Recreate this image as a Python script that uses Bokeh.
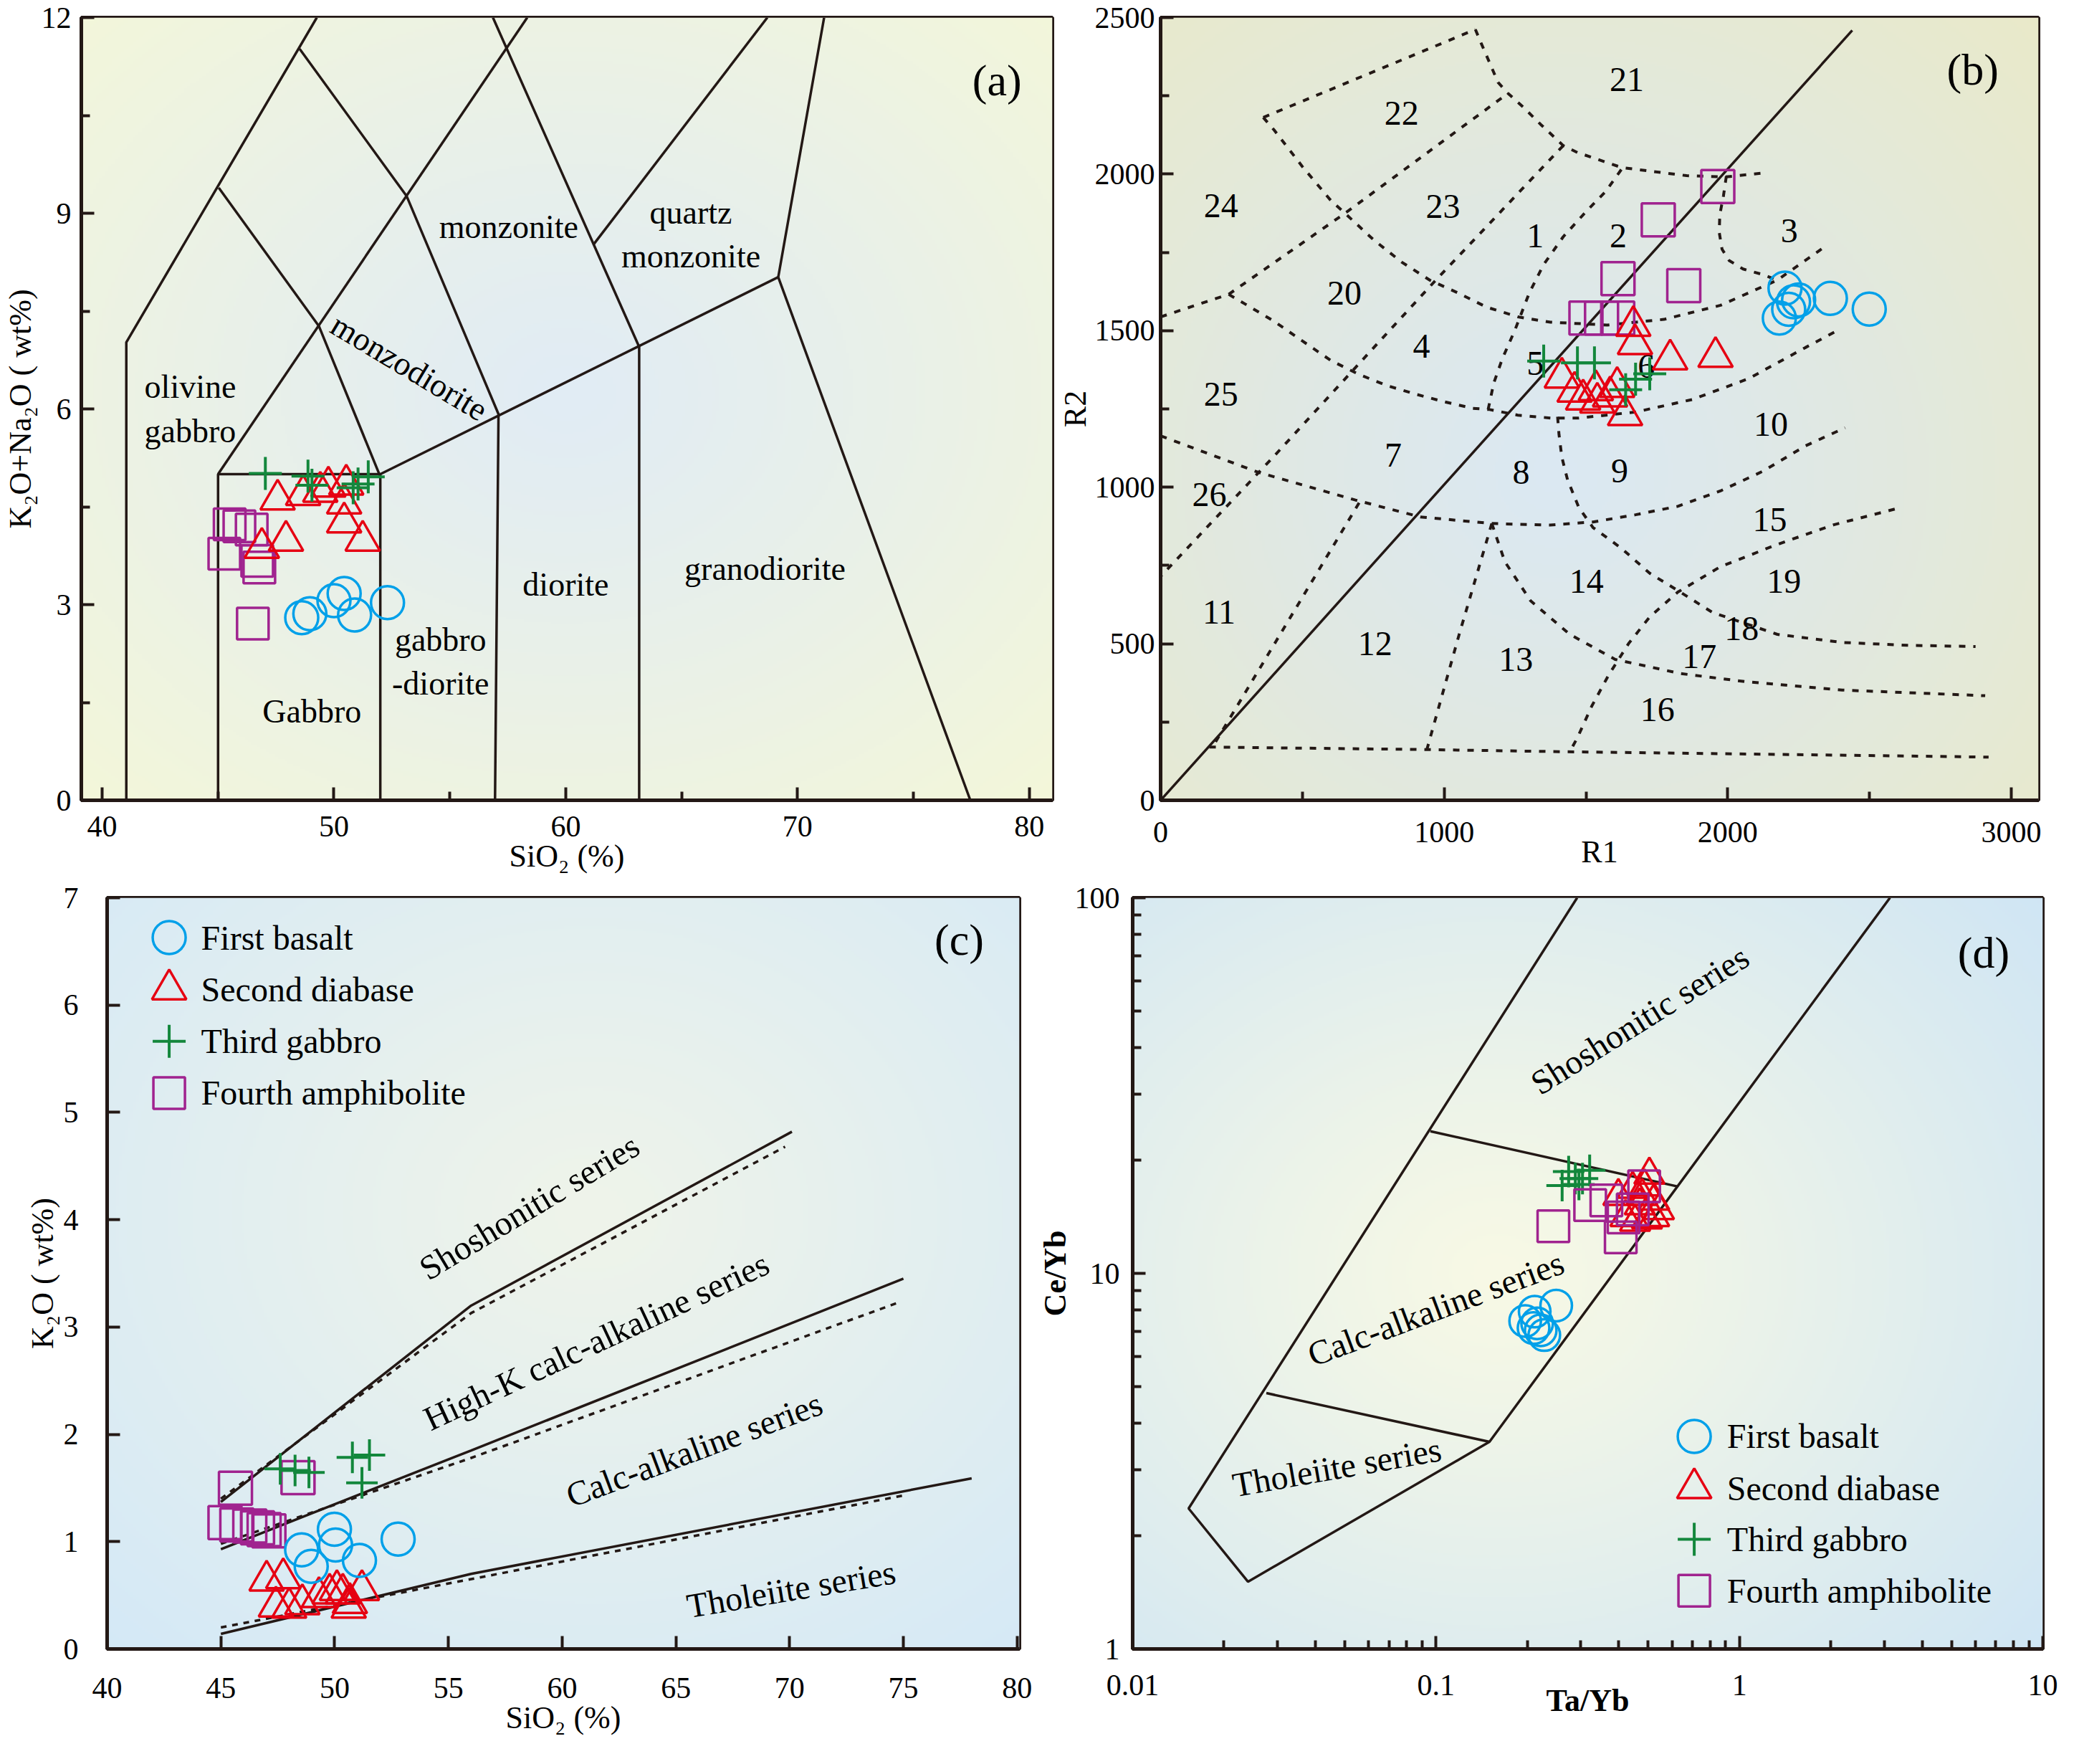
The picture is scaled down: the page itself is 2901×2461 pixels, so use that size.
import numpy as np
from bokeh.plotting import figure
from bokeh.layouts import column, row
from bokeh.models import FixedTicker, CustomJSTickFormatter, Range1d
from bokeh.embed import file_html
from bokeh.resources import INLINE
from bokeh.core.properties import value

FONT = "Liberation Serif"
INK = "#231815"
C_BLUE = "#00a0e9"
C_RED = "#e60012"
C_GREEN = "#13873c"
C_PURPLE = "#a0238f"

SERIES = ["First basalt", "Second diabase", "Third gabbro", "Fourth amphibolite"]

# ---------------- Panel (a): TAS plutonic ----------------
a_basalt_x = [48.61, 48.96, 50.0, 50.44, 50.89, 52.31]
a_basalt_y = [2.80, 2.86, 3.06, 3.17, 2.84, 3.03]
a_diabase_x = [47.57, 48.67, 49.41, 49.76, 50.53, 50.44, 50.44, 51.24, 47.93, 46.89]
a_diabase_y = [4.61, 4.68, 4.73, 4.81, 4.84, 4.55, 4.26, 3.98, 3.98, 3.87]
a_gabbro_x = [47.04, 48.88, 49.05, 50.83, 51.04, 51.48]
a_gabbro_y = [5.01, 4.97, 4.83, 4.79, 4.85, 4.96]
a_amph_x = [45.5, 45.92, 46.45, 45.27, 46.69, 46.78, 46.5]
a_amph_y = [4.23, 4.2, 4.15, 3.78, 3.67, 3.57, 2.71]

a_bound_xs = [[41.04, 41.04, 49.26], [45.03, 49.35, 51.98], [45, 45, 52, 52], [45, 58.34],
              [48.52, 53.14, 57.1, 56.95], [52, 69.17], [56.86, 63.17, 63.17], [61.2, 68.7],
              [71.15, 69.17, 77.46]]
a_bound_ys = [[0, 7.02, 12], [9.39, 7.27, 4.98], [0, 5, 5, 0], [5, 12],
              [11.52, 9.26, 5.92, 0], [5, 8.02], [12, 6.95, 0], [8.52, 12],
              [12, 8.02, 0]]
a_lab_text = ["olivine\ngabbro", "monzonite", "quartz\nmonzonite", "diorite", "granodiorite",
              "gabbro\n-diorite", "Gabbro"]
a_lab_x = [43.8, 57.54, 65.4, 60.0, 68.6, 54.6, 49.05]
a_lab_y = [6.0, 8.79, 8.68, 3.31, 3.55, 2.13, 1.36]

# ---------------- Panel (b): R1-R2 ----------------
b_basalt_x = [2202, 2232, 2250, 2215, 2182, 2362, 2499]
b_basalt_y = [1636, 1592, 1598, 1568, 1540, 1603, 1569]
b_diabase_x = [1667, 1673, 1797, 1957, 1415, 1460, 1490, 1535, 1540, 1610, 1638, 1585]
b_diabase_y = [1515, 1457, 1408, 1416, 1350, 1305, 1280, 1310, 1270, 1320, 1230, 1290]
b_gabbro_x = [1351, 1470, 1530, 1640, 1675, 1725]
b_gabbro_y = [1403, 1397, 1397, 1311, 1345, 1362]
b_amph_x = [1965, 1755, 1613, 1845, 1500, 1555, 1612]
b_amph_y = [1960, 1854, 1666, 1644, 1540, 1540, 1540]

b_diag_x = [0, 2439]
b_diag_y = [0, 2459]
b_curves = [
    [(362, 2181), (1110, 2462)],
    [(1110, 2462), (1130, 2419), (1160, 2356), (1190, 2293), (1225, 2258), (1280, 2213), (1340, 2159),
     (1420, 2091), (1470, 2069), (1626, 2021), (1855, 1995), (1992, 1991), (2130, 2004)],
    [(362, 2181), (400, 2141), (500, 2024), (600, 1916), (655, 1871), (750, 1791), (850, 1719), (950, 1661),
     (1050, 1620), (1150, 1575), (1260, 1544), (1375, 1527), (1575, 1518), (1775, 1536), (1975, 1581),
     (2174, 1661), (2344, 1769)],
    [(1995, 1993), (1985, 1931), (1972, 1870), (1970, 1814), (1980, 1760), (2005, 1724), (2054, 1697),
     (2124, 1679), (2164, 1665)],
    [(240, 1616), (655, 1878), (1225, 2258)],
    [(1420, 2091), (970, 1661), (400, 1099), (0, 715)],
    [(0, 1544), (240, 1616), (300, 1584), (400, 1530), (500, 1467), (600, 1405), (700, 1360), (800, 1324),
     (900, 1297), (1000, 1273), (1100, 1252), (1160, 1248), (1260, 1230), (1375, 1221), (1475, 1221),
     (1675, 1240), (1875, 1280), (2074, 1347), (2274, 1446), (2394, 1504)],
    [(1155, 1248), (1175, 1333), (1205, 1410), (1250, 1503), (1300, 1620), (1350, 1710), (1420, 1800),
     (1500, 1880), (1570, 1945), (1625, 2015)],
    [(0, 1164), (343, 1048), (687, 959), (916, 905), (1168, 884), (1374, 879), (1525, 889), (1675, 912),
     (1824, 939), (1974, 988), (2124, 1051), (2274, 1132), (2414, 1190)],
    [(1400, 1225), (1405, 1168), (1415, 1096), (1435, 1024), (1475, 935), (1525, 871), (1625, 805),
     (1725, 725), (1824, 670), (1946, 600), (2175, 530), (2404, 504), (2633, 495), (2874, 491)],
    [(2589, 930), (2374, 880), (2174, 817), (1974, 746), (1824, 665), (1725, 586), (1650, 500),
     (1580, 400), (1520, 300), (1470, 200), (1443, 155)],
    [(1168, 884), (1214, 762), (1305, 637), (1443, 530), (1603, 450), (1832, 405), (2061, 379),
     (2404, 352), (2908, 334)],
    [(1168, 884), (1053, 530), (939, 162)],
    [(700, 950), (183, 170)],
    [(172, 170), (939, 162), (1431, 155), (2920, 138)],
]
b_lab_text = ["21", "22", "24", "23", "1", "2", "3", "20", "4", "25", "5", "6", "7", "26", "8", "9",
              "10", "15", "11", "14", "19", "18", "12", "13", "17", "16"]
b_lab_x = [1644, 850, 213, 996, 1321, 1614, 2217, 648, 920, 213, 1321, 1713, 820, 172, 1271, 1619,
           2152, 2148, 206, 1502, 2198, 2049, 756, 1253, 1900, 1752]
b_lab_y = [2302, 2195, 1900, 1896, 1802, 1802, 1820, 1620, 1450, 1298, 1396, 1387, 1102, 977, 1048, 1052,
           1200, 896, 602, 700, 700, 548, 500, 450, 459, 289]

# ---------------- Panel (c): K2O vs SiO2 ----------------
c_basalt_x = [48.55, 48.97, 49.99, 50.04, 51.09, 52.79]
c_basalt_y = [0.924, 0.77, 1.116, 0.968, 0.825, 1.023]
c_diabase_x = [47.01, 47.74, 47.42, 48.0, 48.58, 49.31, 49.78, 50.10, 50.36, 50.67, 51.2, 50.62]
c_diabase_y = [0.637, 0.659, 0.395, 0.384, 0.417, 0.483, 0.516, 0.549, 0.516, 0.428, 0.549, 0.384]
c_gabbro_x = [47.61, 48.26, 48.87, 50.78, 51.53, 51.2]
c_gabbro_y = [1.679, 1.663, 1.645, 1.785, 1.807, 1.548]
c_amph_x = [45.18, 45.70, 46.27, 46.61, 46.90, 47.11, 45.64, 48.39]
c_amph_y = [1.178, 1.156, 1.145, 1.129, 1.112, 1.101, 1.498, 1.597]

c_solid_xs = [[45, 56, 70.1], [45, 56, 75], [45, 56, 78]]
c_solid_ys = [[1.37, 3.2, 4.82], [0.93, 1.85, 3.45], [0.14, 0.70, 1.59]]
c_dot_xs = [[45, 56, 69.8], [45, 56, 74.8], [45, 75]]
c_dot_ys = [[1.40, 3.13, 4.68], [0.98, 1.78, 3.23], [0.20, 1.43]]
c_lab_text = ["Shoshonitic series", "High-K calc-alkaline series", "Calc-alkaline series", "Tholeiite series"]
c_lab_x = [58.55, 61.5, 65.8, 70.07]
c_lab_y = [4.12, 2.87, 1.86, 0.56]
c_lab_angle = [31, 25, 20.5, 9.5]

# ---------------- Panel (d): Ce/Yb vs Ta/Yb ----------------
d_basalt_x = [0.1967, 0.2114, 0.2489, 0.2154, 0.2213, 0.2274, 0.2096]
d_basalt_y = [7.47, 7.91, 8.21, 7.36, 7.05, 6.85, 7.15]
d_diabase_x = [0.399, 0.4446, 0.5048, 0.4868, 0.5236, 0.5429, 0.4694, 0.4211, 0.4529, 0.4958, 0.5236, 0.4781]
d_diabase_y = [16.05, 16.76, 18.28, 17.0, 15.6, 14.72, 15.15, 14.1, 13.7, 13.9, 14.1, 16.05]
d_gabbro_x = [0.2604, 0.2736, 0.2878, 0.3039, 0.3209, 0.2958]
d_gabbro_y = [17.13, 18.67, 17.88, 17.88, 18.81, 17.25]
d_amph_x = [0.2436, 0.3221, 0.3642, 0.4852, 0.4150, 0.4062, 0.445]
d_amph_y = [13.35, 15.20, 15.64, 17.06, 14.09, 12.47, 14.8]

d_bound_xs = [[0.2918, 0.01529, 0.02399, 0.150, 3.135], [0.02758, 0.150], [0.0958, 0.627]]
d_bound_ys = [[100, 2.366, 1.51, 3.56, 100], [4.80, 3.56], [23.9, 17.03]]
d_lab_text = ["Shoshonitic series", "Calc-alkaline series", "Tholeiite series"]
d_lab_x = [0.469, 0.0997, 0.0471]
d_lab_y = [47.3, 8.06, 3.05]
d_lab_angle = [32, 20.5, 10]


def hex2rgb(h):
    h = h.lstrip("#")
    return np.array([int(h[i:i + 2], 16) for i in (0, 2, 4)], dtype=float)


def add_bg(p, xr, yr, cx, cy, rx, ry, c_in, c_out, n=320):
    u = np.linspace(0, 1, n)
    U, V = np.meshgrid(u, u)
    d = np.sqrt(((U - cx) / rx) ** 2 + ((V - cy) / ry) ** 2)
    t = np.clip(d, 0, 1) ** 1.1
    ci, co = hex2rgb(c_in), hex2rgb(c_out)
    img = np.empty((n, n), dtype=np.uint32)
    view = img.view(dtype=np.uint8).reshape((n, n, 4))
    for k in range(3):
        view[..., k] = (ci[k] * (1 - t) + co[k] * t).astype(np.uint8)
    view[..., 3] = 255
    p.image_rgba(image=[img], x=xr[0], y=yr[0], dw=xr[1] - xr[0], dh=yr[1] - yr[0], level="image")


def make_fig(xr, yr, fw, fh, bl, br, bt, bb, xt="linear", yt="linear",
             xs=(16, 0), ys=(14, 0)):
    p = figure(x_range=Range1d(*xr), y_range=Range1d(*yr), frame_width=fw, frame_height=fh,
               x_axis_type=xt, y_axis_type=yt, output_backend="svg", toolbar_location=None,
               min_border_left=bl, min_border_right=br, min_border_top=bt, min_border_bottom=bb)
    p.grid.visible = False
    p.outline_line_color = INK
    p.outline_line_width = 5
    p.outline_line_alpha = 1
    p.border_fill_color = "white"
    for ax in p.axis:
        ax.axis_line_color = INK
        ax.axis_line_width = 5
        ax.major_tick_in = 18
        ax.major_tick_out = 0
        ax.minor_tick_in = 12
        ax.minor_tick_out = 0
        ax.major_tick_line_color = INK
        ax.minor_tick_line_color = INK
        ax.major_tick_line_width = 4
        ax.minor_tick_line_width = 4
        ax.major_label_text_font = FONT
        ax.major_label_text_font_size = "42px"
        ax.major_label_text_color = "black"
        ax.axis_label_text_font = FONT
        ax.axis_label_text_font_size = "44px"
        ax.axis_label_text_font_style = "normal"
        ax.axis_label_text_color = "black"
    p.xaxis.major_label_standoff = xs[0]
    p.xaxis.axis_label_standoff = xs[1]
    p.yaxis.major_label_standoff = ys[0]
    p.yaxis.axis_label_standoff = ys[1]
    return p


def pts(p, x, y, kind, color, size, lw=3.5):
    p.scatter(x, y, marker=kind, size=size, fill_color=None, line_color=color, line_width=lw)


def labels(p, x, y, text, size="46px", angle=0.0, align="center"):
    p.text(x=x, y=y, text=text, text_font=value(FONT), text_font_size=size, text_align=align,
           text_baseline="middle", text_color="black", angle=angle, angle_units="deg")


MARKERS = [("circle", C_BLUE, 46), ("triangle", C_RED, 48), ("cross", C_GREEN, 46), ("square", C_PURPLE, 44)]


def frac(rng, f, log=False):
    if log:
        a, b = np.log10(rng[0]), np.log10(rng[1])
        return 10 ** (a + f * (b - a))
    return rng[0] + f * (rng[1] - rng[0])


def legend(p, xr, yr, fx_m, fx_t, fys, logx=False, logy=False):
    for (kind, color, size), name, fy in zip(MARKERS, SERIES, fys):
        xm = frac(xr, fx_m, logx)
        xt = frac(xr, fx_t, logx)
        yy = frac(yr, fy, logy)
        pts(p, [xm], [yy], kind, color, size, lw=4 if kind == "cross" else 3.5)
        labels(p, [xt], [yy], [name], size="48px", align="left")


# ---------- Figure A ----------
xa, ya = (39.1, 81.0), (0, 12)
pa = make_fig(xa, ya, 1355, 1092, 109, 4, 24, 112, xs=(22, 0), ys=(14, 2))
add_bg(pa, xa, ya, 0.5, 0.52, 0.8, 0.8, "#e1ecf5", "#f6f8d6")
pa.xaxis.ticker = FixedTicker(ticks=[40, 50, 60, 70, 80], minor_ticks=[45, 55, 65, 75])
pa.yaxis.ticker = FixedTicker(ticks=[0, 3, 6, 9, 12], minor_ticks=[1.5, 4.5, 7.5, 10.5])
pa.xaxis.axis_label = "SiO\u2082 (%)"
pa.yaxis.axis_label = "K\u2082O+Na\u2082O ( wt%)"
pa.multi_line(a_bound_xs, a_bound_ys, line_color=INK, line_width=3.5)
labels(pa, a_lab_x, a_lab_y, a_lab_text)
labels(pa, [53.25], [6.64], ["monzodiorite"], angle=-31)
labels(pa, [frac(xa, 0.943)], [frac(ya, 0.92)], ["(a)"], size="62px")
pts(pa, a_amph_x, a_amph_y, "square", C_PURPLE, 44)
pts(pa, a_diabase_x, a_diabase_y, "triangle", C_RED, 48)
pts(pa, a_gabbro_x, a_gabbro_y, "cross", C_GREEN, 46, lw=4)
pts(pa, a_basalt_x, a_basalt_y, "circle", C_BLUE, 46)

# ---------- Figure B ----------
xb, yb = (0, 3096), (0, 2500)
pb = make_fig(xb, yb, 1225, 1092, 138, 30, 24, 112, xs=(30, -14), ys=(8, 0))
add_bg(pb, xb, yb, 0.45, 0.42, 0.8, 0.85, "#dbe8f3", "#eaeac8")
pb.xaxis.ticker = FixedTicker(ticks=[0, 1000, 2000, 3000], minor_ticks=[500, 1500, 2500])
pb.yaxis.ticker = FixedTicker(ticks=[0, 500, 1000, 1500, 2000, 2500],
                              minor_ticks=[250, 750, 1250, 1750, 2250])
pb.xaxis.axis_label = "R1"
pb.yaxis.axis_label = "R2"
pb.multi_line([[q[0] for q in c] for c in b_curves], [[q[1] for q in c] for c in b_curves],
              line_color=INK, line_width=4, line_dash="9 11")
pb.line(b_diag_x, b_diag_y, line_color=INK, line_width=3.5)
labels(pb, b_lab_x, b_lab_y, b_lab_text, size="48px")
labels(pb, [frac(xb, 0.925)], [frac(yb, 0.934)], ["(b)"], size="62px")
pts(pb, b_amph_x, b_amph_y, "square", C_PURPLE, 46)
pts(pb, b_diabase_x, b_diabase_y, "triangle", C_RED, 48)
pts(pb, b_gabbro_x, b_gabbro_y, "cross", C_GREEN, 46, lw=4)
pts(pb, b_basalt_x, b_basalt_y, "circle", C_BLUE, 46)

# ---------- Figure C ----------
xc, yc = (40, 80.1), (0, 7)
pc = make_fig(xc, yc, 1273, 1048, 149, 22, 24, 130, xs=(40, 0), ys=(40, 2))
add_bg(pc, xc, yc, 0.53, 0.58, 0.85, 0.85, "#eff4ea", "#d2e8f8")
pc.xaxis.ticker = FixedTicker(ticks=list(range(40, 81, 5)))
pc.yaxis.ticker = FixedTicker(ticks=list(range(0, 8)))
pc.xaxis.axis_label = "SiO\u2082 (%)"
pc.yaxis.axis_label = "K\u2082O ( wt%)"
pc.multi_line(c_dot_xs, c_dot_ys, line_color=INK, line_width=3.5, line_dash="8 8")
pc.multi_line(c_solid_xs, c_solid_ys, line_color=INK, line_width=3.5)
for t, x, y, ang in zip(c_lab_text, c_lab_x, c_lab_y, c_lab_angle):
    labels(pc, [x], [y], [t], size="48px", angle=ang)
labels(pc, [frac(xc, 0.934)], [frac(yc, 0.944)], ["(c)"], size="62px")
pts(pc, c_amph_x, c_amph_y, "square", C_PURPLE, 46)
pts(pc, c_diabase_x, c_diabase_y, "triangle", C_RED, 48)
pts(pc, c_gabbro_x, c_gabbro_y, "cross", C_GREEN, 44, lw=4)
pts(pc, c_basalt_x, c_basalt_y, "circle", C_BLUE, 46)
legend(pc, xc, yc, 0.068, 0.103, [0.947, 0.878, 0.809, 0.740])

# ---------- Figure D ----------
xd, yd = (0.01, 10), (1, 100)
pd_ = make_fig(xd, yd, 1270, 1048, 127, 30, 24, 130, xt="log", yt="log", xs=(36, -20), ys=(18, 0))
add_bg(pd_, xd, yd, 0.40, 0.50, 0.85, 0.85, "#f8f9e5", "#cce4f6")
minor_x = [m * 10.0 ** k for k in (-2, -1, 0) for m in range(2, 10)]
minor_y = [m * 10.0 ** k for k in (0, 1) for m in range(2, 10)]
pd_.xaxis.ticker = FixedTicker(ticks=[0.01, 0.1, 1, 10], minor_ticks=minor_x)
pd_.yaxis.ticker = FixedTicker(ticks=[1, 10, 100], minor_ticks=minor_y)
fmt = CustomJSTickFormatter(code="return String(parseFloat(tick.toPrecision(6)));")
pd_.xaxis.formatter = fmt
pd_.yaxis.formatter = fmt
pd_.xaxis.axis_label = "Ta/Yb"
pd_.yaxis.axis_label = "Ce/Yb"
pd_.xaxis.axis_label_text_font_style = "bold"
pd_.yaxis.axis_label_text_font_style = "bold"
pd_.multi_line(d_bound_xs, d_bound_ys, line_color=INK, line_width=3.5)
for t, x, y, ang in zip(d_lab_text, d_lab_x, d_lab_y, d_lab_angle):
    labels(pd_, [x], [y], [t], size="48px", angle=ang)
labels(pd_, [frac(xd, 0.935, True)], [frac(yd, 0.927, True)], ["(d)"], size="62px")
pts(pd_, d_gabbro_x, d_gabbro_y, "cross", C_GREEN, 44, lw=4)
pts(pd_, d_diabase_x, d_diabase_y, "triangle", C_RED, 42)
pts(pd_, d_amph_x, d_amph_y, "square", C_PURPLE, 44)
pts(pd_, d_basalt_x, d_basalt_y, "circle", C_BLUE, 44)
legend(pd_, xd, yd, 0.617, 0.653, [0.283, 0.214, 0.146, 0.0776], logx=True, logy=True)

layout = column(row(pa, pb), row(pc, pd_))
open("out.html", "w").write(file_html(layout, INLINE))
